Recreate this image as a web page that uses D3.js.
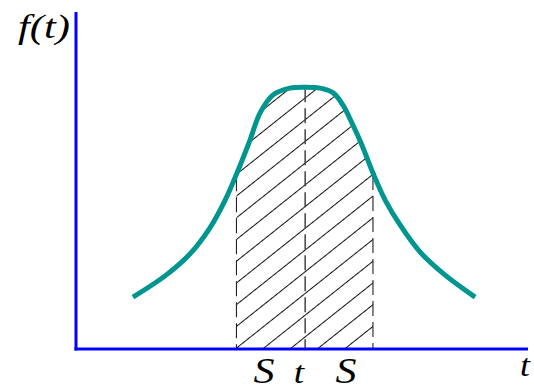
<!DOCTYPE html>
<html>
<head>
<meta charset="utf-8">
<script src="https://cdn.jsdelivr.net/npm/d3@7"></script>
<style>
  html, body { margin: 0; padding: 0; background: #fff; }
  svg { display: block; }
  text { font-family: "Liberation Serif", "Times New Roman", serif; font-style: italic; fill: #000; }
</style>
</head>
<body>
<svg id="chart" width="534" height="391"></svg>
<script>
// ---- data (abstract units) ----
const curveT = [1.26, 1.97, 2.52, 2.96, 3.30, 3.56, 3.85, 4.07, 4.36, 4.73, 5.07, 5.40, 5.69, 5.90, 6.10, 6.32, 6.57, 6.84, 7.17, 7.61, 8.16, 8.83];
const curveF = [1.54, 2.17, 2.82, 3.59, 4.42, 5.22, 6.20, 7.00, 7.54, 7.74, 7.77, 7.74, 7.60, 7.25, 6.72, 6.07, 5.22, 4.42, 3.68, 2.88, 2.20, 1.54];
const markT = [3.55, 5.07, 6.57];         // S, t, S positions
const markLabels = ["S", "t", "S"];
const axisLabels = { y: "f(t)", x: "t" };

// ---- scales ----
const x = d3.scaleLinear().domain([0, 10]).range([76, 528]);
const y = d3.scaleLinear().domain([0, 10]).range([349, 12]);

const svg = d3.select("#chart");
const pts = curveT.map((t, i) => ({ t, f: curveF[i] }));
const line = d3.line().x(d => x(d.t)).y(d => y(d.f)).curve(d3.curveCatmullRom.alpha(0.5));

const path0 = svg.append("path").attr("d", line(pts)).attr("fill", "none").attr("stroke", "none");
function fAt(t) {
  const node = path0.node(), L = node.getTotalLength(), px = x(t);
  let lo = 0, hi = L;
  for (let k = 0; k < 40; k++) { const m = (lo + hi) / 2; if (node.getPointAtLength(m).x < px) lo = m; else hi = m; }
  return node.getPointAtLength(lo).y;
}

// ---- hatch pattern ----
const defs = svg.append("defs");
const pat = defs.append("pattern").attr("id", "hatch").attr("patternUnits", "userSpaceOnUse")
  .attr("width", 17).attr("height", 17).attr("patternTransform", "translate(0,4) rotate(-38.5)");
pat.append("line").attr("x1", -2).attr("y1", 8.5).attr("x2", 19).attr("y2", 8.5)
  .attr("stroke", "#111").attr("stroke-width", 1);

// shaded region under curve between first and last mark
const t0 = markT[0], t1 = markT[markT.length - 1];
const regionPts = [];
const N = 80;
for (let i = 0; i <= N; i++) {
  const t = t0 + (t1 - t0) * i / N;
  regionPts.push([x(t), fAt(t)]);
}
regionPts.push([x(t1), y(0)], [x(t0), y(0)]);
svg.append("path").attr("d", "M" + regionPts.map(p => p.join(",")).join("L") + "Z")
  .attr("fill", "url(#hatch)").attr("stroke", "none");

// dashed verticals
markT.forEach((t, i) => {
  svg.append("line")
    .attr("x1", x(t)).attr("x2", x(t))
    .attr("y1", i === 1 ? fAt(t) : fAt(t) + 2).attr("y2", y(0))
    .attr("stroke", i === 1 ? "#444" : "#222")
    .attr("stroke-width", i === 1 ? 1.5 : 1.1)
    .attr("stroke-dasharray", "15,6");
});

// curve
svg.append("path").attr("d", line(pts)).attr("fill", "none")
  .attr("stroke", "#00968f").attr("stroke-width", 5).attr("stroke-linecap", "butt");

// axes
svg.append("line").attr("x1", x(0)).attr("x2", x(0)).attr("y1", y(10)).attr("y2", y(0) + 1.5)
  .attr("stroke", "#0000ff").attr("stroke-width", 3);
svg.append("line").attr("x1", x(0) - 1.5).attr("x2", x(10)).attr("y1", y(0)).attr("y2", y(0))
  .attr("stroke", "#0000ff").attr("stroke-width", 3);

// labels
function lab(txt, cx, by, size, sx) {
  svg.append("text").attr("transform", `translate(${cx},${by}) scale(${sx},1)`)
    .attr("text-anchor", "middle").attr("font-size", size).text(txt);
}
lab(axisLabels.y, 44, 38, 34, 1.25);
lab(axisLabels.x, 525, 376, 31, 1.15);
const labelX = [264, 299, 346];
markLabels.forEach((s, i) => lab(s, labelX[i], 383, i === 1 ? 31 : 35, 1.2));
</script>
</body>
</html>
